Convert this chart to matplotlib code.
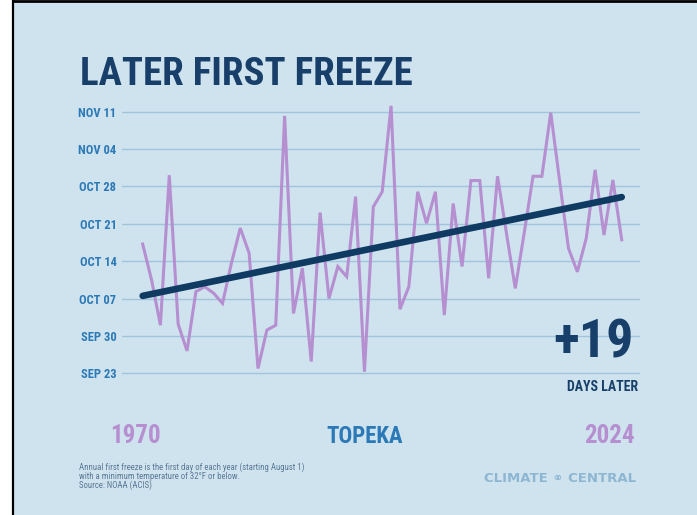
import matplotlib
matplotlib.use("Agg")
import matplotlib.pyplot as plt
from matplotlib.lines import Line2D
from matplotlib.patches import Rectangle

# first freeze, days after Sep 23, one value per year 1970-2024
years = list(range(1970, 2025))
freeze_days = [
    24.2, 17.5, 9.0, 37.1, 9.2, 4.2, 15.3, 16.2, 15.0, 13.1,
    20.6, 27.2, 22.5, 0.9, 8.1, 9.0, 48.2, 11.2, 19.7, 2.2,
    30.1, 14.0, 20.0, 18.1, 33.1, 0.3, 31.2, 34.0, 50.1, 12.0,
    16.2, 34.0, 28.1, 34.0, 10.9, 31.8, 20.0, 36.1, 36.1, 17.8,
    36.9, 26.3, 15.9, 26.2, 36.9, 36.9, 48.8, 36.0, 23.4, 19.0,
    25.3, 38.1, 25.9, 36.2, 25.0,
]
trend_years = [1970, 2024]
trend_days = [14.5, 33.0]

tick_days = [0, 7, 14, 21, 28, 35, 42, 49]
tick_labels = ["SEP 23", "SEP 30", "OCT 07", "OCT 14", "OCT 21", "OCT 28", "NOV 04", "NOV 11"]

W, H = 697, 515
BG = "#cfe3ef"
NAVY = "#173f69"
BLUE = "#2b79b6"
PURPLE = "#b68fd0"
GRID = "#9fc4dc"

NARROW = ["Roboto Condensed", "Liberation Sans Narrow", "DejaVu Sans"]
cond = dict(family=NARROW, fontweight="bold")


def fx(px):
    return px / W


def fy(py):
    return 1 - py / H


fig = plt.figure(figsize=(W / 100, H / 100), dpi=100)
fig.patch.set_facecolor("white")

# background panel + frame lines
fig.patches.append(Rectangle((fx(14), 0), 1 - fx(14), fy(2), transform=fig.transFigure,
                             facecolor=BG, edgecolor="none", zorder=-5))
fig.lines.append(Line2D([fx(13), fx(13)], [0, 1], transform=fig.transFigure, color="black", lw=1.6))
fig.lines.append(Line2D([fx(13), 1], [fy(1), fy(1)], transform=fig.transFigure, color="black", lw=2))

ax = fig.add_axes([fx(122), fy(385), fx(640) - fx(122), fy(100) - fy(385)])
ax.set_zorder(2)
ax.set_facecolor("none")
ax.plot(years, freeze_days, color=PURPLE, lw=2.2, solid_joinstyle="miter", zorder=2)
ax.plot(trend_years, trend_days, color="#0f3a62", lw=4.8, solid_capstyle="round", zorder=3)

ax.set_xlim(1967.67, 2026.06)
ax.set_ylim(-2.19, 51.18)
ax.set_yticks(tick_days)
ax.set_yticklabels(tick_labels)
ax.set_xticks([])
ax.tick_params(axis="y", length=0, pad=4, labelcolor=BLUE)
for lab in ax.get_yticklabels():
    lab.set_fontsize(9)
    lab.set_family(NARROW)
    lab.set_fontweight("bold")
ax.yaxis.grid(True, color=GRID, lw=1)
ax.set_axisbelow(True)
for s in ax.spines.values():
    s.set_visible(False)

fig.text(fx(80), fy(85), "LATER FIRST FREEZE", color=NAVY, fontsize=28, va="baseline", **cond)

fig.text(fx(634), fy(357), "+19", color=NAVY, fontsize=39, ha="right", va="baseline", **cond)
fig.text(fx(638), fy(391), "DAYS LATER", color=NAVY, fontsize=10, ha="right", va="baseline", **cond)

fig.text(fx(110), fy(443), "1970", color=PURPLE, fontsize=18, va="baseline", **cond)
fig.text(fx(365), fy(443), "TOPEKA", color=BLUE, fontsize=16.5, ha="center", va="baseline", **cond)
fig.text(fx(635), fy(443), "2024", color=PURPLE, fontsize=18, ha="right", va="baseline", **cond)

fig.text(fx(79), fy(462),
         "Annual first freeze is the first day of each year (starting August 1)\n"
         "with a minimum temperature of 32°F or below.\n"
         "Source: NOAA (ACIS)",
         color="#5a7894", fontsize=6.3, va="top", linespacing=1.0, family=NARROW)

fig.text(fx(636), fy(479), "CLIMATE \u26ad CENTRAL", color="#8db6d2", fontsize=9.5,
         ha="right", va="center", fontweight="bold", family=["DejaVu Sans"])

fig.savefig("out.png", dpi=100, facecolor=fig.get_facecolor())
